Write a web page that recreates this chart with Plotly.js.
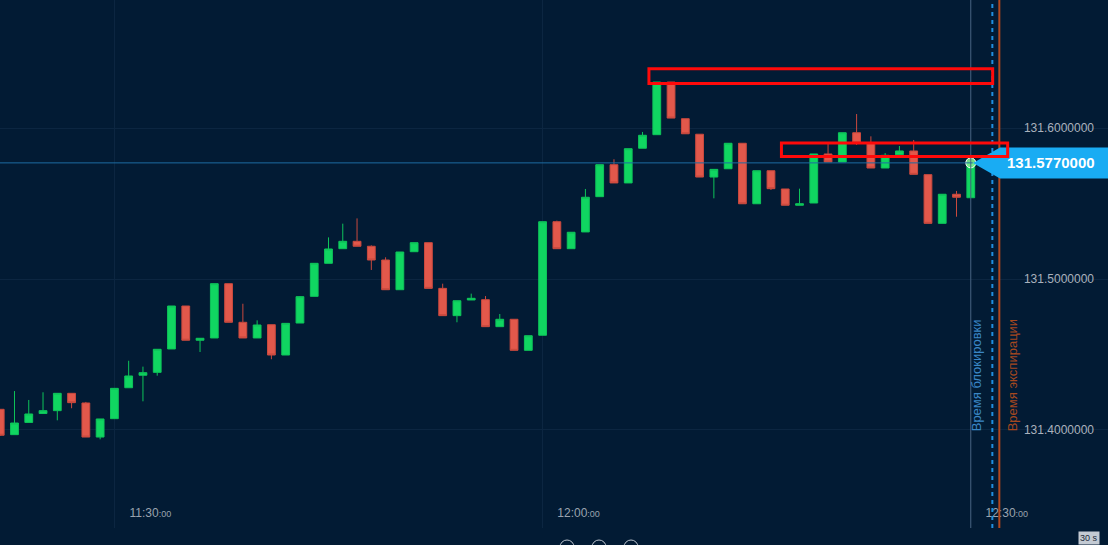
<!DOCTYPE html>
<html>
<head>
<meta charset="utf-8">
<script src="https://cdn.plot.ly/plotly-3.0.1.min.js"></script>
<style>
  html, body { margin:0; padding:0; background:#021b34; overflow:hidden; }
  #chart { width:1108px; height:545px; }
</style>
</head>
<body>
<div id="chart"></div>
<script>
const DAY = '2024-01-01 ';

const times = ['11:22','11:23','11:24','11:25','11:26','11:27','11:28','11:29',
  '11:30','11:31','11:32','11:33','11:34','11:35','11:36','11:37','11:38','11:39',
  '11:40','11:41','11:42','11:43','11:44','11:45','11:46','11:47','11:48','11:49',
  '11:50','11:51','11:52','11:53','11:54','11:55','11:56','11:57','11:58','11:59',
  '12:00','12:01','12:02','12:03','12:04','12:05','12:06','12:07','12:08','12:09',
  '12:10','12:11','12:12','12:13','12:14','12:15','12:16','12:17','12:18','12:19',
  '12:20','12:21','12:22','12:23','12:24','12:25','12:26','12:27','12:28','12:29',
  '12:30'];

const opens = [131.4136,131.3968,131.4049,131.4108,131.4127,131.4242,131.4178,131.3952,
  131.4074,131.4279,131.4362,131.4381,131.4536,131.4821,131.4594,131.4609,131.4969,131.4713,
  131.4609,131.4697,131.4496,131.4708,131.4885,131.5104,131.5201,131.5250,131.5217,131.5126,
  131.4929,131.5181,131.5241,131.4938,131.4757,131.4861,131.4863,131.4684,131.4733,131.4527,
  131.4627,131.5380,131.5201,131.5312,131.5546,131.5758,131.5637,131.5867,131.5957,131.6306,
  131.6063,131.5960,131.5676,131.5731,131.5900,131.5499,131.5718,131.5597,131.5489,131.5504,
  131.5829,131.5776,131.5970,131.5902,131.5736,131.5824,131.5849,131.5692,131.5369,131.5562,
  131.5539];

const highs = [131.4138,131.4257,131.4198,131.4249,131.4242,131.4242,131.4185,131.4072,
  131.4275,131.4458,131.4419,131.4534,131.4821,131.4821,131.4607,131.4969,131.4969,131.4836,
  131.4726,131.4697,131.4706,131.4887,131.5104,131.5276,131.5367,131.5402,131.5223,131.5144,
  131.5179,131.5241,131.5241,131.4969,131.4856,131.4903,131.4887,131.4768,131.4733,131.4624,
  131.5380,131.5387,131.5310,131.5597,131.5758,131.5794,131.5864,131.5975,131.6306,131.6306,
  131.6063,131.5960,131.5727,131.5900,131.5900,131.5718,131.5718,131.5597,131.5599,131.5829,
  131.5895,131.5970,131.6094,131.5946,131.5835,131.5882,131.5922,131.5692,131.5562,131.5584,
  131.5770];

const lows = [131.3959,131.3968,131.4049,131.4108,131.4063,131.4143,131.3952,131.3937,
  131.4074,131.4279,131.4189,131.4359,131.4536,131.4594,131.4516,131.4609,131.4713,131.4609,
  131.4609,131.4468,131.4496,131.4708,131.4885,131.5104,131.5201,131.5217,131.5060,131.4929,
  131.4929,131.5181,131.4938,131.4757,131.4713,131.4861,131.4684,131.4684,131.4527,131.4527,
  131.4627,131.5201,131.5201,131.5312,131.5546,131.5637,131.5637,131.5867,131.5957,131.6067,
  131.5963,131.5676,131.5535,131.5731,131.5499,131.5499,131.5590,131.5489,131.5489,131.5504,
  131.5776,131.5776,131.5889,131.5736,131.5736,131.5824,131.5694,131.5369,131.5369,131.5413,
  131.5539];

const closes = [131.3964,131.4045,131.4105,131.4127,131.4242,131.4180,131.3952,131.4072,
  131.4275,131.4357,131.4379,131.4534,131.4821,131.4594,131.4607,131.4969,131.4713,131.4609,
  131.4695,131.4496,131.4706,131.4883,131.5104,131.5199,131.5250,131.5217,131.5126,131.4929,
  131.5179,131.5241,131.4938,131.4757,131.4856,131.4872,131.4684,131.4733,131.4527,131.4624,
  131.5380,131.5201,131.5310,131.5542,131.5758,131.5637,131.5864,131.5953,131.6306,131.6067,
  131.5963,131.5676,131.5727,131.5900,131.5499,131.5718,131.5599,131.5489,131.5499,131.5829,
  131.5776,131.5970,131.5902,131.5736,131.5820,131.5849,131.5694,131.5369,131.5562,131.5542,
  131.5770];

const currentPrice = 131.577;
const currentPriceLabel = '131.5770000';

const xTickTimes = ['11:30', '12:00', '12:30'];
const yTickValues = [131.4, 131.5, 131.6];
const yTickLabels = ['131.4000000', '131.5000000', '131.6000000'];

const blockTime = '12:30:00';
const dashedTime = '12:31:30.6';
const expiryTime = '12:32:00';
const blockLabel = 'Время блокировки';
const expiryLabel = 'Время экспирации';

// highlighted zones (drawn red boxes): [startTime, endTime, lowPrice, highPrice]
const zoneStarts = ['12:07:27', '12:16:44'];
const zoneEnds   = ['12:31:32', '12:32:35'];
const zoneLows   = [131.6296, 131.5812];
const zoneHighs  = [131.6394, 131.5902];

const xRange = ['11:21:59.1', '12:39:36.8'];
const yRange = [131.3349, 131.6850];

const BG = '#021b34';
const GRID = '#0c2641';
const FONT = 'Liberation Sans, Arial, sans-serif';

const candle = {
  type: 'candlestick',
  x: times.map(t => DAY + t + ':00'),
  open: opens, high: highs, low: lows, close: closes,
  increasing: { line: { color: '#0ec45a', width: 1 }, fillcolor: '#10d661' },
  decreasing: { line: { color: '#c9493e', width: 1 }, fillcolor: '#e2584b' },
  whiskerwidth: 0,
  hoverinfo: 'skip'
};

const glow = {
  type: 'scatter', mode: 'markers',
  x: [DAY + times[times.length - 1] + ':00'], y: [currentPrice],
  marker: { size: 10, color: 'rgba(125,240,140,0.9)', line: { color: '#ffffff', width: 1 } },
  hoverinfo: 'skip'
};

const shapes = [];
// block line
shapes.push({ type:'line', xref:'x', yref:'paper', x0: DAY+blockTime, x1: DAY+blockTime, y0:0, y1:1,
  line:{ color:'#46627f', width:1 } });
// dashed line
shapes.push({ type:'line', xref:'x', yref:'paper', x0: DAY+dashedTime, x1: DAY+dashedTime, y0:0, y1:1,
  line:{ color:'#1f8fe0', width:2, dash:'4px,4px' } });
// expiry line
shapes.push({ type:'line', xref:'x', yref:'paper', x0: DAY+expiryTime, x1: DAY+expiryTime, y0:0, y1:1,
  line:{ color:'#b3481d', width:2 } });
// current price line
shapes.push({ type:'line', xref:'paper', yref:'y', x0:0, x1:0.878, y0:currentPrice, y1:currentPrice,
  line:{ color:'#1d6ca3', width:1 } });
// current price tag
shapes.push({ type:'path', xref:'paper', yref:'y', xsizemode:'pixel', ysizemode:'pixel',
  xanchor:1, yanchor:currentPrice,
  path:'M -135,0 L -108,15.5 L 0,15.5 L 0,-15.5 L -108,-15.5 Z',
  fillcolor:'#19acf3', line:{ width:0 } });
// red zones
for (let i = 0; i < zoneStarts.length; i++) {
  shapes.push({ type:'rect', xref:'x', yref:'y',
    x0: DAY + zoneStarts[i], x1: DAY + zoneEnds[i], y0: zoneLows[i], y1: zoneHighs[i],
    line:{ color:'#ff0a0a', width:3 }, fillcolor:'rgba(0,0,0,0)' });
}
// bottom toolbar circles
[567, 599, 631].forEach(px => {
  shapes.push({ type:'circle', xref:'paper', yref:'paper', xsizemode:'pixel', ysizemode:'pixel',
    xanchor: px / 1108, yanchor: (528 - 547) / 528, x0:-7, x1:7, y0:-7, y1:7,
    line:{ color:'#b9c1cb', width:1 } });
});

const annotations = [
  { xref:'x', yref:'y', x: DAY+blockTime, y: 131.3979, text: blockLabel, textangle:-90,
    xanchor:'center', yanchor:'bottom', xshift:6.5, showarrow:false,
    font:{ family: FONT, size:13, color:'#3a86c6' } },
  { xref:'x', yref:'y', x: DAY+expiryTime, y: 131.3979, text: expiryLabel, textangle:-90,
    xanchor:'center', yanchor:'bottom', xshift:14, showarrow:false,
    font:{ family: FONT, size:13, color:'#a6481f' } },
  { xref:'paper', yref:'y', x:1, y: currentPrice, text: '<b>' + currentPriceLabel + '</b>',
    xanchor:'right', yanchor:'middle', xshift:-11, showarrow:false,
    font:{ family: FONT, size:15, color:'#ffffff' } },
  { xref:'paper', yref:'paper', x:1, y:0, text:'30 s', xanchor:'right', yanchor:'top',
    xshift:-8, yshift:-3, showarrow:false, bgcolor:'#c3cad3', borderpad:1,
    font:{ family: FONT, size:9, color:'#1b2a3a' } }
];

const layout = {
  width: 1108, height: 545,
  margin: { l:0, r:0, t:0, b:17, pad:0 },
  paper_bgcolor: BG, plot_bgcolor: BG,
  showlegend: false,
  boxgap: 0.22,
  xaxis: {
    type:'date', range: xRange.map(t => DAY + t),
    rangeslider:{ visible:false },
    showgrid:true, gridcolor: GRID, gridwidth:1, zeroline:false, showline:false,
    tickmode:'array',
    tickvals: xTickTimes.map(t => DAY + t + ':00'),
    ticktext: xTickTimes.map(t => t + '<span style="font-size:9px">:00</span>'),
    ticks:'', ticklabelposition:'inside', ticklabelshift:36, ticklabelstandoff:6,
    tickfont:{ family: FONT, size:12, color:'#9aa3ae' },
    fixedrange:true
  },
  yaxis: {
    side:'right', range: yRange,
    showgrid:true, gridcolor: GRID, gridwidth:1, zeroline:false, showline:false,
    tickmode:'array', tickvals: yTickValues, ticktext: yTickLabels,
    ticks:'', ticklabelposition:'inside', ticklabelstandoff:11,
    tickfont:{ family: FONT, size:12, color:'#aab2bd' },
    fixedrange:true
  },
  shapes: shapes,
  annotations: annotations
};

Plotly.newPlot('chart', [candle, glow], layout, { staticPlot:true, displayModeBar:false });
</script>
</body>
</html>
